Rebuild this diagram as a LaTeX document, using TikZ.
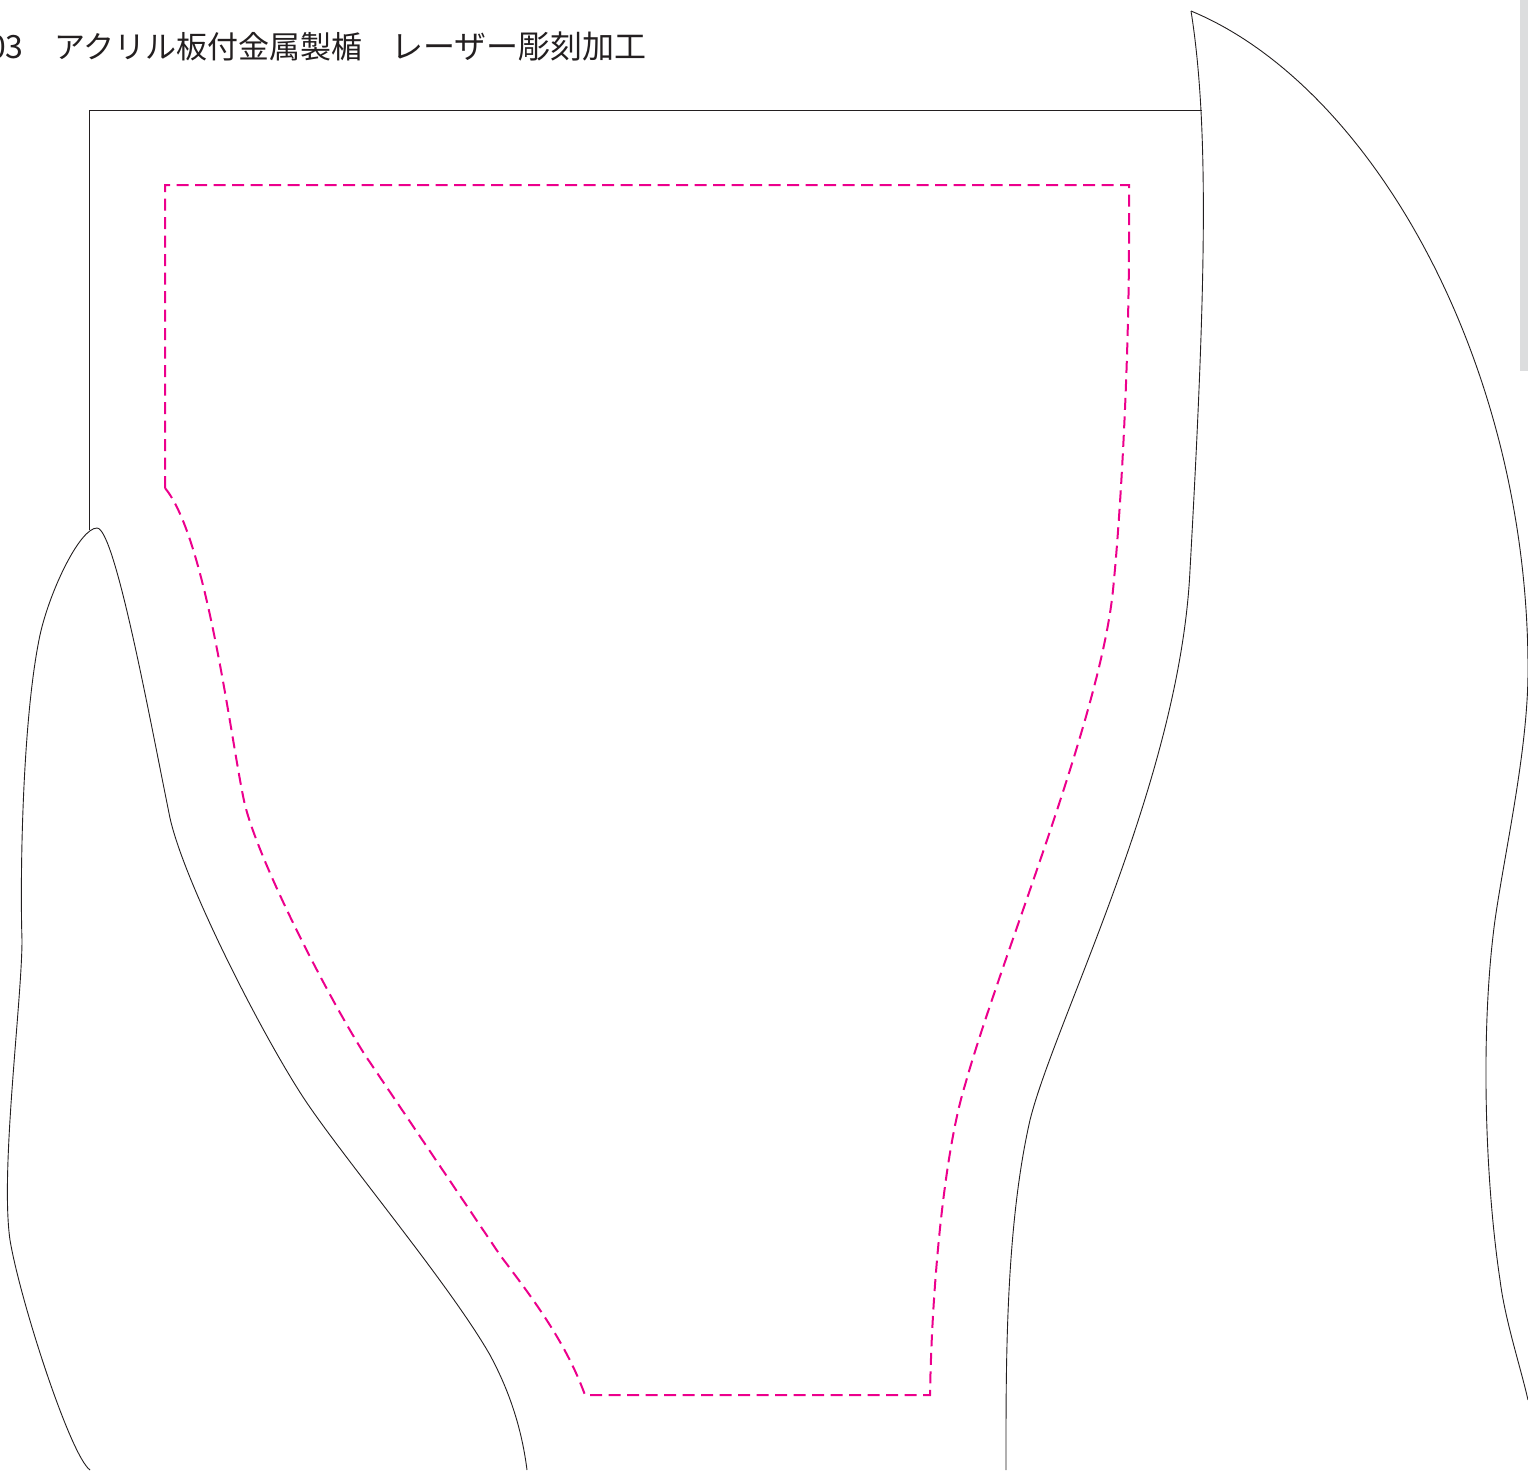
\documentclass[tikz,border=0pt]{standalone}
\usepackage{fontspec}
\newfontfamily\cjk{Noto Sans CJK JP}
\definecolor{cutpink}{HTML}{EC008C}
\definecolor{inkline}{HTML}{231F20}
\definecolor{barcol}{HTML}{DCDDDE}
\tikzset{
  outline/.style={draw=inkline,line width=0.9pt,line join=round},
  engrave/.style={draw=cutpink,line width=2pt,dash pattern=on 12pt off 6.5pt},
  titletext/.style={anchor=base west,inner sep=0pt,text=inkline,font=\cjk\fontsize{32}{32}\selectfont}
}
\begin{document}
\begin{tikzpicture}[x=1pt,y=-1pt]
\useasboundingbox (0,0) rectangle (1528,1470);
\fill[barcol] (1520,0) rectangle (1528,371);
\node[titletext] (num) at (-12,58) {03};
\node[titletext,font=\cjk\fontsize{31}{31}\selectfont] (title) at (54,58) {アクリル板付金属製楯};
\node[titletext] (title2) at (391,58) {レーザー彫刻加工};
% plate
\draw[outline] (89.7,530) -- (89.7,110) -- (1202,110);
% left shape
\draw[outline] (90,1470) .. controls (70,1455) and (20,1300) .. (10,1240)
  .. controls (0,1170) and (22,1000) .. (22,940)
  .. controls (20,880) and (22,720) .. (40,635)
  .. controls (50,590) and (80,528) .. (97,528)
  .. controls (115,528) and (150,720) .. (170,818)
  .. controls (185,885) and (265,1040) .. (305,1100)
  .. controls (345,1160) and (450,1285) .. (490,1355)
  .. controls (510,1392) and (522,1430) .. (527,1470);
% right shape
\draw[outline] (1191,11) .. controls (1210,130) and (1205,300) .. (1190,570)
  .. controls (1180,780) and (1055,1020) .. (1030,1120)
  .. controls (1005,1230) and (1006,1370) .. (1006,1470);
\draw[outline] (1191,11) .. controls (1370,85) and (1528,360) .. (1528,670)
  .. controls (1528,750) and (1505,850) .. (1495,920)
  .. controls (1480,1030) and (1485,1180) .. (1500,1280)
  .. controls (1505,1320) and (1520,1365) .. (1528,1400);
% engrave outline
\draw[engrave] (165,488) -- (165,185) -- (1129,185) -- (1129,240)
  .. controls (1129,350) and (1122,500) .. (1113,590)
  .. controls (1100,720) and (1000,960) .. (965,1085)
  .. controls (945,1150) and (932,1280) .. (930,1395)
  -- (585,1395)
  .. controls (565,1340) and (530,1295) .. (500,1255)
  -- (365,1055)
  .. controls (330,1000) and (260,865) .. (245,805)
  .. controls (232,750) and (208,540) .. (165,488);
\end{tikzpicture}
\end{document}
